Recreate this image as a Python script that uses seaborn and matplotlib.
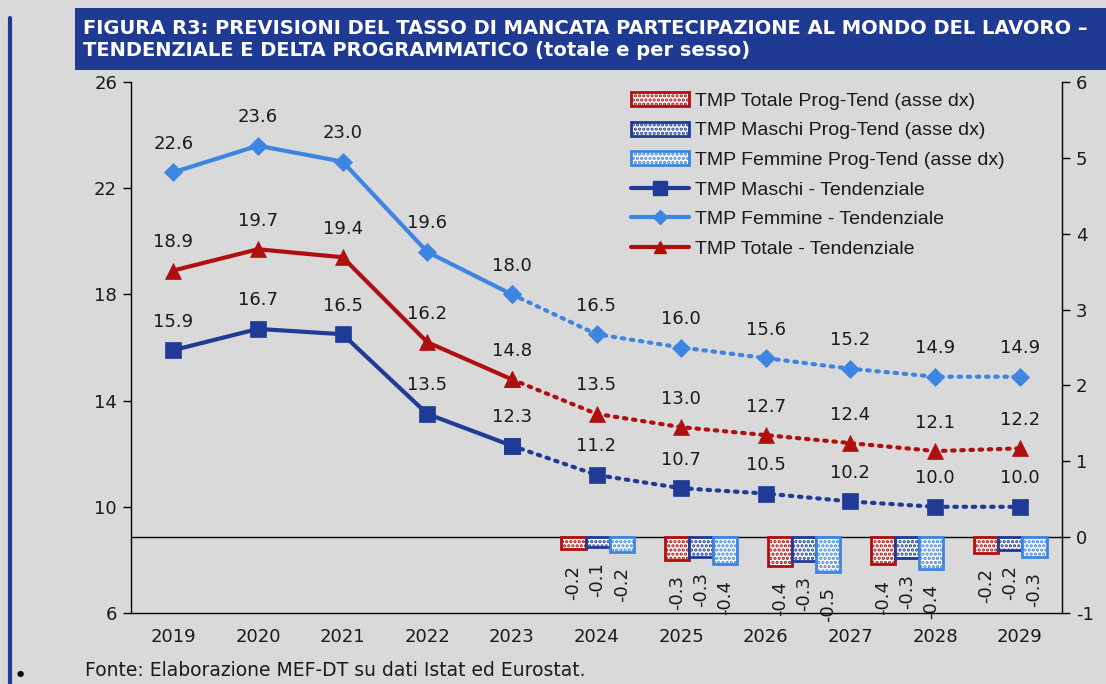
import numpy as np
import pandas as pd
import matplotlib
matplotlib.use("Agg")
import matplotlib.pyplot as plt
import seaborn as sns
from matplotlib.patches import Rectangle, Patch
from matplotlib.lines import Line2D

# ---------------- data ----------------
years = ['2019', '2020', '2021', '2022', '2023', '2024', '2025', '2026', '2027', '2028', '2029']
maschi = [15.9, 16.7, 16.5, 13.5, 12.3, 11.2, 10.7, 10.5, 10.2, 10.0, 10.0]
femmine = [22.6, 23.6, 23.0, 19.6, 18.0, 16.5, 16.0, 15.6, 15.2, 14.9, 14.9]
totale = [18.9, 19.7, 19.4, 16.2, 14.8, 13.5, 13.0, 12.7, 12.4, 12.1, 12.2]
last_hist = '2023'

bar_years = ['2025', '2026', '2027', '2028', '2029']
delta_totale = [-0.16, -0.30, -0.38, -0.36, -0.21]
delta_maschi = [-0.13, -0.26, -0.31, -0.28, -0.17]
delta_femmine = [-0.19, -0.36, -0.46, -0.42, -0.26]

left_ticks = [6, 10, 14, 18, 22, 26]
right_ticks = [-1, 0, 1, 2, 3, 4, 5, 6]

title_lines = ["FIGURA R3: PREVISIONI DEL TASSO DI MANCATA PARTECIPAZIONE AL MONDO DEL LAVORO \u2013",
               "TENDENZIALE E DELTA PROGRAMMATICO (totale e per sesso)"]
source = "Fonte: Elaborazione MEF-DT su dati Istat ed Eurostat."

lbl_tot_bar = "TMP Totale Prog-Tend (asse dx)"
lbl_m_bar = "TMP Maschi Prog-Tend (asse dx)"
lbl_f_bar = "TMP Femmine Prog-Tend (asse dx)"
lbl_m = "TMP Maschi - Tendenziale"
lbl_f = "TMP Femmine - Tendenziale"
lbl_t = "TMP Totale - Tendenziale"

# ---------------- style ----------------
BG = '#d9d9d9'
DARKBLUE = '#1f3b96'
LIGHTBLUE = '#3d85e0'
RED = '#b00f0f'
BANNER = '#1f3a93'
TXT = '#1a1a1a'

sns.set_theme(style='white')
plt.rcParams['font.family'] = ['DejaVu Sans']
plt.rcParams['hatch.linewidth'] = 1.6
FS_NUM = 13
NUMFAM = ['DejaVu Sans']
TEXTFAM = ['Liberation Sans', 'DejaVu Sans']

W, H = 1106, 684
fig = plt.figure(figsize=(W / 100, H / 100), dpi=100, facecolor=BG)

def fx(px):
    return px / W

def fy(py):
    return 1 - py / H

# banner and left line
fig.patches.append(Rectangle((fx(75), fy(70)), 1 - fx(75), fy(8) - fy(70), transform=fig.transFigure,
                             facecolor=BANNER, edgecolor='none', zorder=0))
fig.add_artist(Line2D([fx(10), fx(10)], [fy(18), 0], transform=fig.transFigure, color=BANNER, lw=3))
fig.text(fx(83), fy(28), title_lines[0], color='white', fontsize=14, fontweight='bold',
         family=['DejaVu Sans'], va='center', ha='left')
fig.text(fx(83), fy(51), title_lines[1], color='white', fontsize=14, fontweight='bold',
         family=['DejaVu Sans'], va='center', ha='left')

# ---------------- main axes ----------------
L, R, T, B = 131, 1062, 82, 613
ax = fig.add_axes([fx(L), fy(B), fx(R) - fx(L), fy(T) - fy(B)])
ax.set_facecolor('none')
pos = np.arange(len(years))
hist_n = years.index(last_hist) + 1

series = [(maschi, DARKBLUE, 's', 11, lbl_m),
          (femmine, LIGHTBLUE, 'D', 9, lbl_f),
          (totale, RED, '^', 11, lbl_t)]

for vals, col, mk, ms, lab in series:
    d_hist = pd.DataFrame({'x': pos[:hist_n], 'y': vals[:hist_n]})
    d_fc = pd.DataFrame({'x': pos[hist_n - 1:], 'y': vals[hist_n - 1:]})
    sns.lineplot(data=d_hist, x='x', y='y', ax=ax, color=col, lw=3, marker=mk, markersize=ms,
                 markeredgecolor=col, markeredgewidth=0.5, zorder=3)
    sns.lineplot(data=d_fc, x='x', y='y', ax=ax, color=col, lw=3, marker=mk, markersize=ms,
                 markeredgecolor=col, markeredgewidth=0.5, zorder=3,
                 linestyle=(0, (0.6, 1.6)), dash_capstyle='round')
    for xi, v in zip(pos, vals):
        ax.annotate(f"{v:.1f}", xy=(xi, v), xytext=(0, 14), textcoords='offset points',
                    ha='center', va='bottom', fontsize=FS_NUM, family=NUMFAM, color=TXT)

ax.set_xlim(-0.5, len(years) - 0.5)
ax.set_ylim(left_ticks[0], left_ticks[-1])
ax.set_yticks(left_ticks)
ax.set_yticklabels([str(t) for t in left_ticks], fontsize=FS_NUM, family=NUMFAM, color=TXT)
ax.set_xticks(pos)
ax.set_xticklabels(years, fontsize=FS_NUM, family=NUMFAM, color=TXT)
ax.set_xticks(np.arange(-0.5, len(years), 1.0), minor=True)
ax.tick_params(axis='x', which='major', length=0, pad=11)
ax.tick_params(axis='x', which='minor', length=7, width=1, color='black', direction='out')
ax.tick_params(axis='y', length=6, width=1, color='black', direction='out', left=True, pad=4)
ax.set_xlabel('')
ax.set_ylabel('')
for s in ['top', 'right']:
    ax.spines[s].set_visible(False)
for s in ['left', 'bottom']:
    ax.spines[s].set_color('black')
    ax.spines[s].set_linewidth(1)
ax.grid(False)

# right axis
ax_r = ax.twinx()
ax_r.set_ylim(right_ticks[0], right_ticks[-1])
ax_r.set_yticks(right_ticks)
ax_r.set_yticklabels([str(t) for t in right_ticks], fontsize=FS_NUM, family=NUMFAM, color=TXT)
ax_r.tick_params(axis='y', length=6, width=1, color='black', direction='out', right=True, pad=4)
for s in ['top', 'left', 'bottom']:
    ax_r.spines[s].set_visible(False)
ax_r.spines['right'].set_color('black')
ax_r.spines['right'].set_linewidth(1)
ax_r.axhline(0, color='black', lw=1, zorder=1)
ax_r.grid(False)

# ---------------- bars (own category axis, right scale) ----------------
BL = 546
ax_b = fig.add_axes([fx(BL), fy(B), fx(R) - fx(BL), fy(T) - fy(B)])
ax_b.set_facecolor('none')
dfb = pd.DataFrame({
    'anno': bar_years * 3,
    'delta': delta_totale + delta_maschi + delta_femmine,
    'serie': [lbl_tot_bar] * 5 + [lbl_m_bar] * 5 + [lbl_f_bar] * 5,
})
bar_cols = [RED, DARKBLUE, LIGHTBLUE]
sns.barplot(data=dfb, x='anno', y='delta', hue='serie', ax=ax_b, palette=bar_cols,
            width=0.7, legend=False, saturation=1)
for cont, col in zip(ax_b.containers, bar_cols):
    for p in cont:
        p.set_facecolor('white')
        p.set_edgecolor(col)
        p.set_hatch('....')
        p.set_linewidth(2)
        h = p.get_height()
        xc = p.get_x() + p.get_width() / 2
        ax_b.annotate(f"{h:.1f}", xy=(xc, h), xytext=(0, -11), textcoords='offset points',
                      rotation=90, ha='center', va='top', fontsize=FS_NUM, family=NUMFAM, color=TXT)
ax_b.set_xlim(-0.5, len(bar_years) - 0.5)
ax_b.set_ylim(right_ticks[0], right_ticks[-1])
ax_b.axis('off')

# ---------------- legend ----------------
handles = [
    Patch(facecolor='white', edgecolor=RED, hatch='....', linewidth=2, label=lbl_tot_bar),
    Patch(facecolor='white', edgecolor=DARKBLUE, hatch='....', linewidth=2, label=lbl_m_bar),
    Patch(facecolor='white', edgecolor=LIGHTBLUE, hatch='....', linewidth=2, label=lbl_f_bar),
    Line2D([], [], color=DARKBLUE, lw=3, marker='s', markersize=10, label=lbl_m),
    Line2D([], [], color=LIGHTBLUE, lw=3, marker='D', markersize=7, label=lbl_f),
    Line2D([], [], color=RED, lw=3, marker='^', markersize=9, label=lbl_t),
]
leg = fig.legend(handles=handles, loc='upper left', bbox_to_anchor=(fx(631), fy(92)),
                 frameon=False, prop={'family': TEXTFAM, 'size': 14}, handlelength=3.0,
                 handleheight=0.75, handletextpad=0.28, labelspacing=0.6, borderpad=0, borderaxespad=0)
for t in leg.get_texts():
    t.set_color(TXT)

# source and bullet
fig.text(fx(85), fy(671), source, fontsize=13.5, family=['DejaVu Sans'], color=TXT, va='center', ha='left')
fig.text(fx(20), fy(676), '\u2022', fontsize=16, color='black', va='center', ha='center')

fig.savefig('out.png', dpi=100, facecolor=BG)
